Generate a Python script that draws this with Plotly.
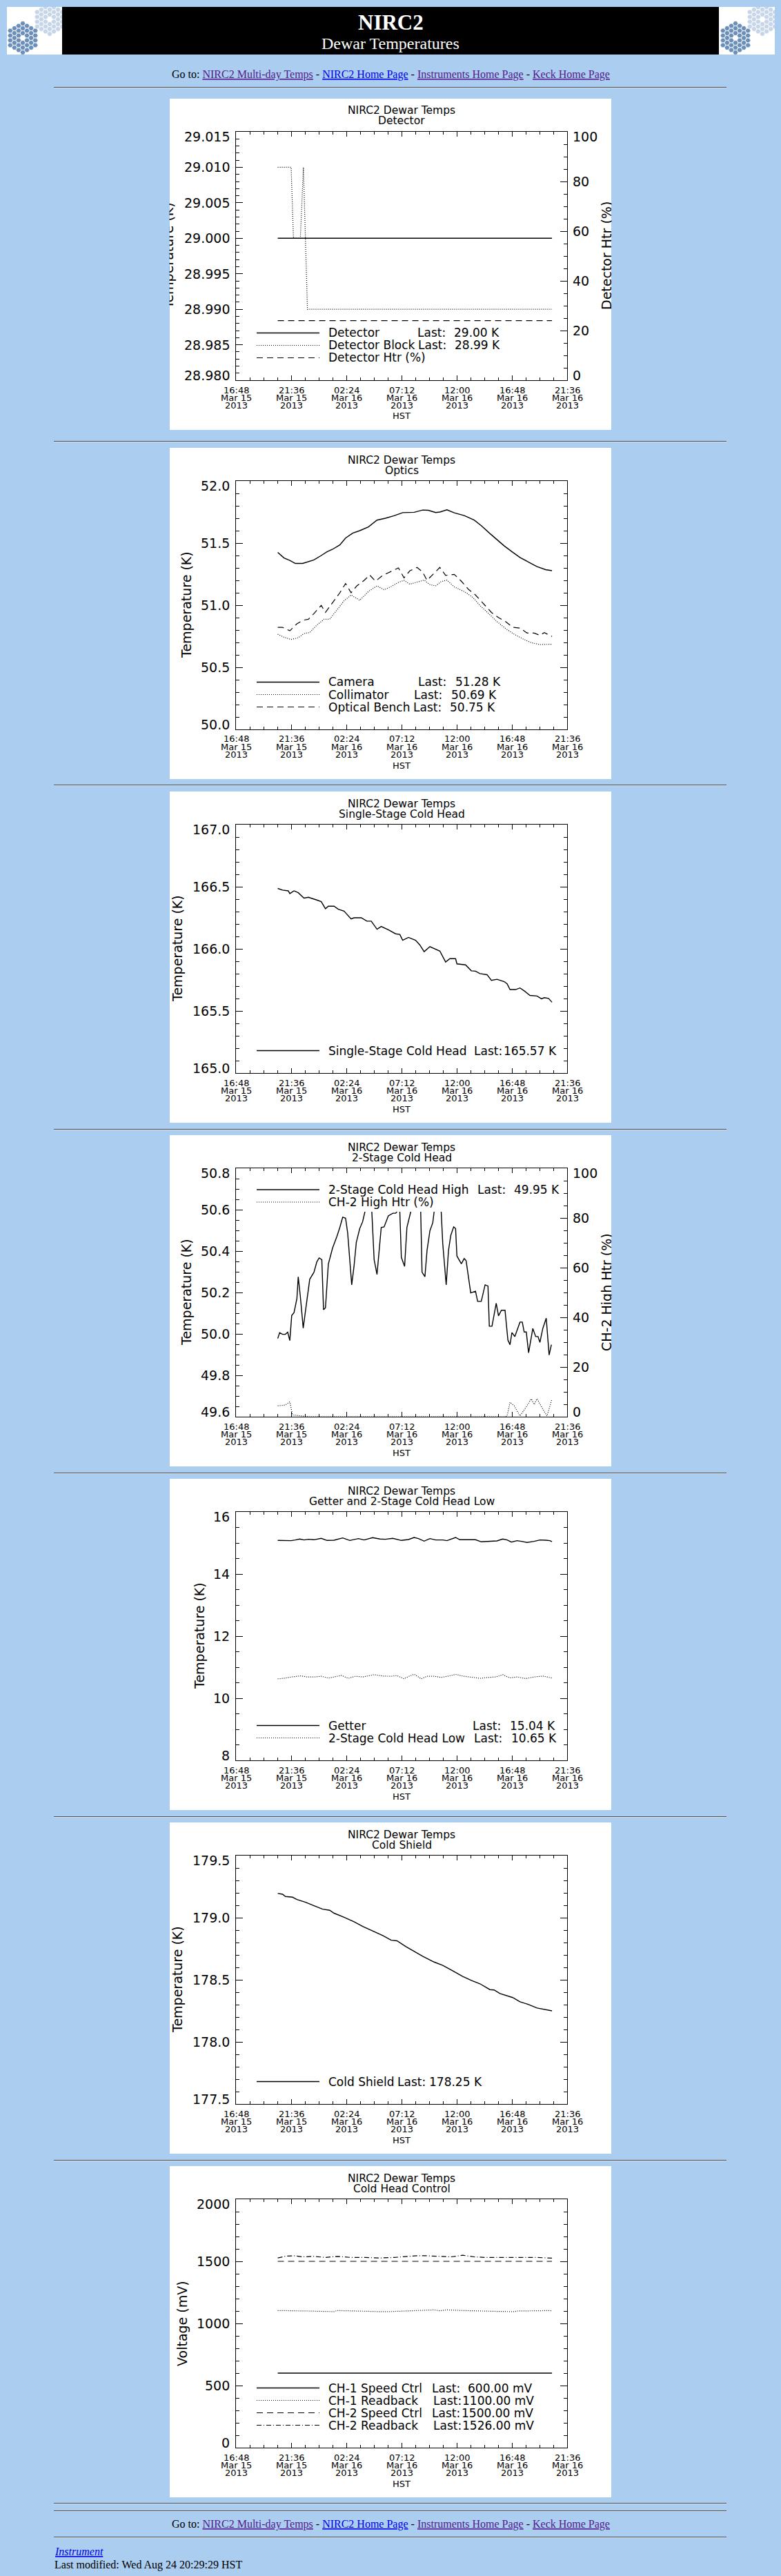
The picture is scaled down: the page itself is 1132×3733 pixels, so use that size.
import pandas as pd
import plotly.graph_objects as go

W, H = 1132, 3733
BG = "#abcdf0"
IDL = "DejaVu Sans"
SERIF = "Liberation Serif, Times New Roman, serif"
PURPLE = "#551a8b"
BLUE = "#0000ee"

# time axis: minutes after 2013-03-15 16:48 HST
T0 = pd.Timestamp("2013-03-15 16:48")
SPAN_MIN = 1728
XTICK_TIME = ["16:48", "21:36", "02:24", "07:12", "12:00", "16:48", "21:36"]
XTICK_DAY = ["Mar 15", "Mar 15", "Mar 16", "Mar 16", "Mar 16", "Mar 16", "Mar 16"]
XTICK_YEAR = ["2013"] * 7

# ---- Detector ----
det_t = [218, 1649]
det_k = [29.000, 29.000]
blk_t = [218, 288, 300, 336, 352, 373, 1649]
blk_k = [29.010, 29.010, 29.000, 29.000, 29.010, 28.990, 28.990]
htr_t = [218, 1649]
htr_pct = [24, 24]

# ---- Optics ----
cam_t = [218, 251, 281, 310, 348, 378, 407, 445, 475, 504, 542, 572, 609, 646, 691, 736,
         780, 825, 870, 930, 974, 1004, 1042, 1064, 1101, 1139, 1191, 1243, 1280, 1325,
         1362, 1400, 1437, 1482, 1527, 1571, 1616, 1649]
cam_k = [51.425, 51.38, 51.36, 51.336, 51.336, 51.35, 51.365, 51.40, 51.43, 51.45, 51.485,
         51.54, 51.58, 51.60, 51.63, 51.685, 51.70, 51.72, 51.745, 51.748, 51.766, 51.764,
         51.746, 51.75, 51.768, 51.744, 51.722, 51.685, 51.64, 51.577, 51.527, 51.477,
         51.434, 51.384, 51.347, 51.31, 51.286, 51.278]
col_t = [218, 251, 288, 325, 355, 385, 422, 460, 489, 527, 564, 601, 646, 691, 736, 773,
         810, 848, 877, 907, 945, 982, 1012, 1042, 1071, 1101, 1139, 1191, 1236, 1273,
         1318, 1362, 1407, 1452, 1497, 1541, 1586, 1631, 1649]
col_k = [50.766, 50.742, 50.724, 50.738, 50.772, 50.78, 50.84, 50.887, 50.887, 50.96,
         51.035, 51.082, 51.039, 51.11, 51.156, 51.124, 51.15, 51.184, 51.20, 51.169,
         51.184, 51.202, 51.165, 51.156, 51.19, 51.202, 51.147, 51.11, 51.063, 50.998,
         50.933, 50.868, 50.812, 50.766, 50.729, 50.698, 50.683, 50.683, 50.686]
ob_t = [218, 243, 281, 318, 348, 378, 407, 445, 467, 504, 542, 572, 601, 631, 669, 698,
        728, 766, 810, 848, 877, 907, 945, 974, 997, 1027, 1064, 1094, 1139, 1176, 1213,
        1250, 1288, 1333, 1370, 1407, 1444, 1482, 1519, 1556, 1586, 1609, 1649]
ob_k = [50.822, 50.822, 50.794, 50.85, 50.878, 50.887, 50.933, 50.998, 50.942, 51.017,
        51.10, 51.174, 51.10, 51.156, 51.20, 51.243, 51.193, 51.24, 51.273, 51.30, 51.22,
        51.276, 51.304, 51.267, 51.20, 51.248, 51.304, 51.24, 51.248, 51.193, 51.128,
        51.082, 51.017, 50.942, 50.90, 50.868, 50.822, 50.816, 50.776, 50.776, 50.757,
        50.779, 50.748]

# ---- Single-stage cold head ----
ss_t = [218, 243, 273, 281, 303, 325, 355, 378, 422, 445, 467, 482, 512, 534, 564, 601,
        616, 654, 683, 706, 736, 758, 795, 833, 855, 870, 900, 937, 959, 982, 1012, 1064,
        1094, 1116, 1146, 1153, 1198, 1228, 1250, 1273, 1310, 1333, 1362, 1400, 1415,
        1430, 1459, 1482, 1504, 1534, 1571, 1594, 1609, 1631, 1649]
ss_k = [166.486, 166.473, 166.467, 166.445, 166.467, 166.452, 166.408, 166.415, 166.393,
        166.38, 166.323, 166.343, 166.343, 166.319, 166.304, 166.241, 166.25, 166.25,
        166.223, 166.223, 166.158, 166.18, 166.153, 166.121, 166.116, 166.069, 166.092,
        166.069, 166.032, 165.977, 166.018, 165.982, 165.894, 165.921, 165.921, 165.879,
        165.871, 165.823, 165.82, 165.801, 165.792, 165.746, 165.755, 165.736, 165.718,
        165.672, 165.672, 165.685, 165.662, 165.625, 165.62, 165.598, 165.607, 165.601,
        165.57]

# ---- 2-stage cold head ----
hi_t = [218, 228, 243, 258, 270, 281, 291, 303, 318, 325, 336, 351, 363, 385, 407, 422,
        434, 448, 457, 467, 482, 504, 527, 542, 557, 572, 583, 604, 616, 628, 646, 661,
        673, 691, 709, 721, 736, 751, 758, 773, 795, 819, 833, 840, 848, 855, 863, 880,
        892, 912, 930, 964, 971, 986, 997, 1012, 1027, 1034, 1049, 1071, 1079, 1097,
        1109, 1121, 1136, 1146, 1153, 1176, 1191, 1201, 1225, 1250, 1261, 1280, 1300,
        1315, 1322, 1336, 1347, 1358, 1370, 1385, 1404, 1419, 1430, 1440, 1455, 1482,
        1494, 1504, 1515, 1527, 1549, 1564, 1576, 1586, 1601, 1619, 1634, 1646]
hi_k = [49.978, 50.006, 49.998, 49.998, 50.008, 49.968, 50.089, 50.103, 50.17, 50.276,
        50.181, 50.028, 50.112, 50.264, 50.298, 50.348, 50.367, 50.359, 50.117, 50.126,
        50.337, 50.414, 50.472, 50.514, 50.564, 50.559, 50.487, 50.237, 50.326, 50.442,
        50.509, 50.542, 50.59, 50.70, 50.59, 50.359, 50.287, 50.453, 50.514, 50.517,
        50.57, 50.583, 50.583, 50.59, 50.68, 50.59, 50.37, 50.326, 50.514, 50.59, 50.70,
        50.59, 50.298, 50.276, 50.403, 50.498, 50.537, 50.59, 50.70, 50.59, 50.437,
        50.237, 50.403, 50.476, 50.517, 50.509, 50.376, 50.339, 50.364, 50.353, 50.198,
        50.206, 50.157, 50.157, 50.237, 50.231, 50.037, 50.037, 50.092, 50.148, 50.087,
        50.114, 50.114, 49.97, 49.948, 50.006, 49.987, 50.057, 50.057, 50.009, 50.009,
        49.909, 50.026, 49.987, 49.987, 49.959, 50.026, 50.076, 49.898, 49.948]
ch2h_t = [218, 258, 281, 295, 378, 825, 1407, 1415, 1430, 1452, 1482, 1515, 1541, 1556,
          1571, 1598, 1623, 1649]
ch2h_pct = [4.4, 4.7, 6.0, 0.7, 0, 0, 0, 0.3, 5.8, 4.4, 0.3, 4.0, 7.2, 4.9, 7.2, 3.5, 0.3, 7.2]

# ---- Getter and 2-stage low ----
get_t = [218, 258, 288, 310, 333, 355, 378, 407, 445, 475, 512, 557, 594, 639, 669, 713,
         751, 780, 818, 863, 900, 930, 952, 982, 1012, 1042, 1079, 1101, 1146, 1168, 1213,
         1250, 1280, 1318, 1362, 1392, 1415, 1437, 1467, 1489, 1519, 1556, 1586, 1616,
         1638, 1649]
get_k = [15.082, 15.075, 15.075, 15.097, 15.127, 15.097, 15.12, 15.104, 15.149, 15.082,
         15.09, 15.164, 15.082, 15.141, 15.097, 15.171, 15.127, 15.12, 15.149, 15.082,
         15.112, 15.178, 15.141, 15.06, 15.141, 15.097, 15.097, 15.075, 15.178, 15.104,
         15.097, 15.104, 15.038, 15.045, 15.067, 15.127, 15.097, 15.03, 15.075, 15.053,
         15.016, 15.053, 15.097, 15.09, 15.075, 15.04]
low_t = [218, 258, 288, 318, 340, 370, 407, 445, 482, 512, 549, 586, 624, 661, 721, 766,
         810, 840, 877, 900, 930, 967, 997, 1034, 1071, 1109, 1146, 1183, 1228, 1273,
         1318, 1355, 1392, 1430, 1467, 1512, 1556, 1601, 1649]
low_k = [10.626, 10.648, 10.685, 10.70, 10.722, 10.685, 10.685, 10.708, 10.648, 10.685,
         10.737, 10.641, 10.708, 10.685, 10.759, 10.715, 10.708, 10.73, 10.626, 10.70,
         10.774, 10.626, 10.708, 10.708, 10.67, 10.715, 10.767, 10.715, 10.67, 10.641,
         10.67, 10.685, 10.759, 10.655, 10.685, 10.633, 10.685, 10.715, 10.65]

# ---- Cold shield ----
cs_t = [218, 243, 258, 295, 318, 363, 407, 452, 489, 512, 564, 616, 661, 721, 766, 810,
        840, 885, 930, 974, 1034, 1079, 1124, 1183, 1228, 1273, 1325, 1347, 1377, 1422,
        1444, 1482, 1527, 1571, 1601, 1649]
cs_k = [179.195, 179.189, 179.171, 179.165, 179.147, 179.124, 179.097, 179.069, 179.06,
        179.036, 179.004, 178.967, 178.93, 178.89, 178.856, 178.819, 178.814, 178.769,
        178.73, 178.69, 178.643, 178.616, 178.579, 178.527, 178.495, 178.468, 178.421,
        178.418, 178.39, 178.366, 178.357, 178.323, 178.301, 178.273, 178.264, 178.25]

# ---- Cold head control ----
c1s_t = [218, 1649]
c1s_mv = [600, 600]
c1r_t = [218, 288, 355, 378, 452, 512, 527, 601, 676, 751, 795, 900, 974, 1034, 1064,
         1101, 1183, 1258, 1273, 1362, 1452, 1467, 1571, 1638, 1649]
c1r_mv = [1104, 1104, 1104, 1100, 1097, 1095, 1104, 1100, 1097, 1095, 1095, 1100, 1102,
          1109, 1102, 1109, 1104, 1100, 1100, 1097, 1095, 1100, 1102, 1104, 1100]
c2s_t = [218, 1649]
c2s_mv = [1500, 1500]
c2r_t = [218, 258, 303, 348, 407, 467, 527, 601, 676, 751, 825, 900, 945, 990, 1049,
         1124, 1183, 1243, 1303, 1362, 1422, 1497, 1571, 1649]
c2r_mv = [1527, 1541, 1545, 1536, 1540, 1531, 1540, 1531, 1531, 1527, 1531, 1541, 1545,
          1545, 1540, 1536, 1549, 1536, 1531, 1531, 1531, 1527, 1531, 1526]

PCT_LABELS = ["0", "20", "40", "60", "80", "100"]

PANELS = [
    dict(sub="Detector", yr=(28.980, 29.015), dtick=0.005, minor=0.001,
         ylab=["28.980", "28.985", "28.990", "28.995", "29.000", "29.005", "29.010", "29.015"],
         ytitle="Temperature (K)", ytx=244,
         right=dict(title="Detector Htr (%)", tx=879),
         traces=[(det_t, det_k, "solid", "L"), (blk_t, blk_k, "dot", "L"),
                 (htr_t, htr_pct, "dash", "R")],
         legend=[("Detector", "29.00 K", "solid", 604, 725),
                 ("Detector Block", "28.99 K", "dot", 605, 726),
                 ("Detector Htr (%)", None, "dash", 0, 0)]),
    dict(sub="Optics", yr=(50.0, 52.0), dtick=0.5, minor=0.1,
         ylab=["50.0", "50.5", "51.0", "51.5", "52.0"], ytitle="Temperature (K)", ytx=270,
         traces=[(cam_t, cam_k, "solid", "L"), (col_t, col_k, "dot", "L"),
                 (ob_t, ob_k, "dash", "L")],
         legend=[("Camera", "51.28 K", "solid", 605, 727),
                 ("Collimator", "50.69 K", "dot", 599, 721),
                 ("Optical Bench", "50.75 K", "dash", 598, 719)]),
    dict(sub="Single-Stage Cold Head", yr=(165.0, 167.0), dtick=0.5, minor=0.1,
         ylab=["165.0", "165.5", "166.0", "166.5", "167.0"], ytitle="Temperature (K)", ytx=257,
         traces=[(ss_t, ss_k, "solid", "L")],
         legend=[("Single-Stage Cold Head", "165.57 K", "solid", 686, 808)]),
    dict(sub="2-Stage Cold Head", yr=(49.6, 50.8), dtick=0.2, minor=0.05,
         ylab=["49.6", "49.8", "50.0", "50.2", "50.4", "50.6", "50.8"],
         ytitle="Temperature (K)", ytx=270,
         right=dict(title="CH-2 High Htr (%)", tx=879),
         traces=[(hi_t, hi_k, "solid", "L"), (ch2h_t, ch2h_pct, "dot", "R")],
         legend=[("2-Stage Cold Head High", "49.95 K", "solid", 691, 812),
                 ("CH-2 High Htr (%)", None, "dot", 0, 0)],
         legend_top=79, legend_box=(50.59, 50.775)),
    dict(sub="Getter and 2-Stage Cold Head Low", yr=(8, 16), dtick=2, minor=0.5,
         ylab=["8", "10", "12", "14", "16"], ytitle="Temperature (K)", ytx=289,
         traces=[(get_t, get_k, "solid", "L"), (low_t, low_k, "dot", "L")],
         legend=[("Getter", "15.04 K", "solid", 684, 806),
                 ("2-Stage Cold Head Low", "10.65 K", "dot", 686, 808)]),
    dict(sub="Cold Shield", yr=(177.5, 179.5), dtick=0.5, minor=0.1,
         ylab=["177.5", "178.0", "178.5", "179.0", "179.5"], ytitle="Temperature (K)", ytx=257,
         traces=[(cs_t, cs_k, "solid", "L")],
         legend=[("Cold Shield", "178.25 K", "solid", 575, 700)]),
    dict(sub="Cold Head Control", yr=(0, 2000), dtick=500, minor=100,
         ylab=["0", "500", "1000", "1500", "2000"], ytitle="Voltage (mV)", ytx=264,
         traces=[(c1s_t, c1s_mv, "solid", "L"), (c1r_t, c1r_mv, "dot", "L"),
                 (c2s_t, c2s_mv, "dash", "L"), (c2r_t, c2r_mv, "dashdot", "L")],
         legend=[("CH-1 Speed Ctrl", "600.00 mV", "solid", 625, 772),
                 ("CH-1 Readback", "1100.00 mV", "dot", 627, 775),
                 ("CH-2 Speed Ctrl", "1500.00 mV", "dash", 625, 774),
                 ("CH-2 Readback", "1526.00 mV", "dashdot", 627, 775)]),
]

PANEL_TOPS = [143, 649, 1147, 1645, 2143, 2641, 3139]
HR_Y = [126, 639, 1137, 1636, 2134, 2632, 3130, 3627, 3638, 3676]
PANEL_L, PANEL_W, PANEL_H = 246, 640, 480
FRAME_L, FRAME_R = 342, 822
FRAME_T, FRAME_B = 48, 408

STYLE = {
    "solid": dict(dash="solid", width=1.4),
    "dot": dict(dash="1px,2px", width=1.2),
    "dash": dict(dash="9px,6px", width=1.2),
    "dashdot": dict(dash="7px,3px,1px,3px", width=1.2),
}

ANN = []
SHAPES = []


def fx(x):
    return x / W


def fy(y):
    return 1 - y / H


def add_text(x, y, s, size, xref="paper", yref="paper", family=IDL, color="black", **kw):
    a = dict(x=fx(x) if xref == "paper" else x, y=fy(y) if yref == "paper" else y,
             xref=xref, yref=yref, text=s, showarrow=False,
             font=dict(family=family, size=size, color=color),
             xanchor="center", yanchor="middle", borderpad=0)
    a.update(kw)
    ANN.append(a)


def add_rect(x0, y0, x1, y1, color):
    SHAPES.append(dict(type="rect", xref="paper", yref="paper", x0=fx(x0), x1=fx(x1),
                       y0=fy(y0), y1=fy(y1), fillcolor=color, line=dict(width=0),
                       layer="below"))


def add_line(x0, x1, y, color, width=1, dash="solid"):
    SHAPES.append(dict(type="line", xref="paper", yref="paper", x0=fx(x0), x1=fx(x1),
                       y0=fy(y), y1=fy(y), line=dict(color=color, width=width, dash=dash)))


def times(mins):
    return [T0 + pd.Timedelta(minutes=m) for m in mins]


fig = go.Figure()
layout = dict(width=W, height=H, margin=dict(l=0, r=0, t=0, b=0), paper_bgcolor=BG,
              plot_bgcolor="rgba(0,0,0,0)", showlegend=False)

x_start = T0.strftime("%Y-%m-%d %H:%M:%S")
x_end = (T0 + pd.Timedelta(minutes=SPAN_MIN)).strftime("%Y-%m-%d %H:%M:%S")
tick_dates = times([288 * j for j in range(7)])
axis_common = dict(showgrid=False, zeroline=False, showline=True, linecolor="black",
                   linewidth=1, ticks="inside", tickcolor="black", tickwidth=1,
                   showticklabels=False)
right_axes = {}
right_id = 8

for k, (p, top) in enumerate(zip(PANELS, PANEL_TOPS), start=1):
    sx = "" if k == 1 else str(k)
    has_right = "right" in p
    layout["xaxis" + sx] = dict(
        axis_common, domain=[fx(FRAME_L), fx(FRAME_R)], anchor="y" + sx, type="date",
        range=[x_start, x_end], tick0=x_start, dtick=288 * 60000, ticklen=7, mirror="ticks",
        minor=dict(tick0=x_start, dtick=72 * 60000, ticks="inside", ticklen=4,
                   tickcolor="black", tickwidth=1, showgrid=False))
    lo, hi = p["yr"]
    layout["yaxis" + sx] = dict(
        axis_common, domain=[fy(top + FRAME_B), fy(top + FRAME_T)], anchor="x" + sx,
        range=[lo, hi], tick0=lo, dtick=p["dtick"], ticklen=10,
        mirror=True if has_right else "ticks",
        minor=dict(tick0=lo, dtick=p["minor"], ticks="inside", ticklen=5,
                   tickcolor="black", tickwidth=1, showgrid=False))
    ry = None
    if has_right:
        ry = "y%d" % right_id
        layout["yaxis%d" % right_id] = dict(
            axis_common, overlaying="y" + sx, side="right", anchor="x" + sx,
            range=[0, 100], tick0=0, dtick=20, ticklen=10,
            minor=dict(tick0=0, dtick=5, ticks="inside", ticklen=5, tickcolor="black",
                       tickwidth=1, showgrid=False))
        right_id += 1

    # data
    for t, v, style, side in p["traces"]:
        fig.add_trace(go.Scatter(
            x=times(t), y=v, mode="lines", line=dict(color="black", **STYLE[style]),
            xaxis="x" + sx, yaxis=ry if side == "R" else "y" + sx, hoverinfo="skip"))

    # white image panel
    add_rect(PANEL_L, top, PANEL_L + PANEL_W, top + PANEL_H, "white")

    # titles
    cx = (FRAME_L + FRAME_R) / 2
    add_text(cx, top + 17.5, "NIRC2 Dewar Temps", 15.5)
    add_text(cx, top + 32.5, p["sub"], 15.5)

    # x tick labels
    for d, a, b, c in zip(tick_dates, XTICK_TIME, XTICK_DAY, XTICK_YEAR):
        for dy, s in ((14, a), (25, b), (36.5, c)):
            add_text(d, top + FRAME_B + dy, s, 13, xref="x" + sx)
    add_text(cx, top + 460, "HST", 13)

    # y tick labels
    for s in p["ylab"]:
        v = float(s)
        shift = -7 if v == hi else (7 if v == lo else 0)
        add_text(FRAME_L - 8, v, s, 19, yref="y" + sx, xanchor="right", yshift=shift)
    if has_right:
        for s in PCT_LABELS:
            v = float(s)
            shift = -7 if v == 100 else (7 if v == 0 else 0)
            add_text(FRAME_R + 7, v, s, 19, yref=ry, xanchor="left", yshift=shift)

    # axis titles
    add_text(p["ytx"], top + 228, p["ytitle"], 19, textangle=-90)
    if has_right:
        add_text(p["right"]["tx"], top + 228, p["right"]["title"], 19, textangle=-90)
    # the plot image crops titles that fall outside it
    if p["ytx"] < PANEL_L + 10:
        add_text(PANEL_L, top + 228, " ", 10, xanchor="right", width=40, height=260,
                 bgcolor=BG)
    if has_right:
        add_text(PANEL_L + PANEL_W, top + 228, " ", 10, xanchor="left", width=40,
                 height=260, bgcolor=BG)

    # legend (IDL style, drawn inside the frame)
    if "legend_box" in p:
        b0, b1 = p["legend_box"]
        SHAPES.append(dict(type="rect", xref="paper", yref="y" + sx, x0=fx(368), x1=fx(812),
                           y0=b0, y1=b1, fillcolor="white", line=dict(width=0),
                           layer="above"))
    n = len(p["legend"])
    for i, (name, val, style, xl, xe) in enumerate(p["legend"]):
        if "legend_top" in p:
            ly = top + p["legend_top"] + 18 * i
        else:
            ly = top + 375.5 - 18 * (n - 1 - i)
        st = STYLE[style]
        add_line(372, 463, ly, "black", width=st["width"], dash=st["dash"])
        add_text(475, ly, name, 17, xanchor="left")
        if val is not None:
            add_text(xl, ly, "Last:", 17, xanchor="left")
            add_text(xe, ly, val, 17, xanchor="right")

# horizontal rules
for y in HR_Y:
    add_line(78, 1053, y + 0.5, "#505050", width=1)
    add_line(78, 1053, y + 1.5, "#d4dde8", width=1)

# header banner
add_rect(90, 10, 1042, 79, "black")
add_rect(10, 10, 90, 79, "white")
add_rect(1042, 10, 1123, 79, "white")
add_text(566, 32, "<b>NIRC2</b>", 31, family=SERIF, color="white")
add_text(566, 63, "Dewar Temperatures", 24, family=SERIF, color="white")


def link(s, c):
    return "<span style='color:%s'><u>%s</u></span>" % (c, s)


goto = ("Go to: " + link("NIRC2 Multi-day Temps", PURPLE) + " - "
        + link("NIRC2 Home Page", BLUE) + " - " + link("Instruments Home Page", PURPLE)
        + " - " + link("Keck Home Page", PURPLE))
add_text(566, 108, goto, 16, family=SERIF)
add_text(566, 3658, goto, 16, family=SERIF)
add_text(78, 3697, "<i>" + link("Instrument", BLUE) + "</i>", 16, family=SERIF,
         xanchor="left")
add_text(78, 3717, "Last modified: Wed Aug 24 20:29:29 HST", 16, family=SERIF,
         xanchor="left")

# Keck mirror logos: two 36-segment hexagonal mirrors in each corner image
cells = []
for q in range(-3, 4):
    for r in range(-3, 4):
        if 1 <= max(abs(q), abs(r), abs(q + r)) <= 3:
            cells.append((q, r))
SEG = 7.0
for li, (lx, ly) in enumerate([(10, 10), (1043, 10)]):
    axn = 10 + li
    layout["xaxis%d" % axn] = dict(domain=[fx(lx), fx(lx + 80)], range=[0, 80],
                                   visible=False, anchor="y%d" % axn)
    layout["yaxis%d" % axn] = dict(domain=[fy(ly + 69), fy(ly)], range=[69, 0],
                                   visible=False, anchor="x%d" % axn)
    for (cx0, cy0), col in (((62, 18), "#c6d5e7"), ((23, 45), "#6b8fb8")):
        fig.add_trace(go.Scatter(
            x=[cx0 + SEG * 0.866 * q for q, r in cells],
            y=[cy0 + SEG * (r + q / 2) for q, r in cells],
            mode="markers", xaxis="x%d" % axn, yaxis="y%d" % axn, hoverinfo="skip",
            marker=dict(symbol="hexagon2", size=7.6, color=col,
                        line=dict(color="white", width=0.6))))

layout["annotations"] = ANN
layout["shapes"] = SHAPES
fig.update_layout(**layout)

fig.write_html("out.html", config={"displayModeBar": False},
               post_script="document.body.style.margin='0px';"
                           "document.body.style.overflow='hidden';")
